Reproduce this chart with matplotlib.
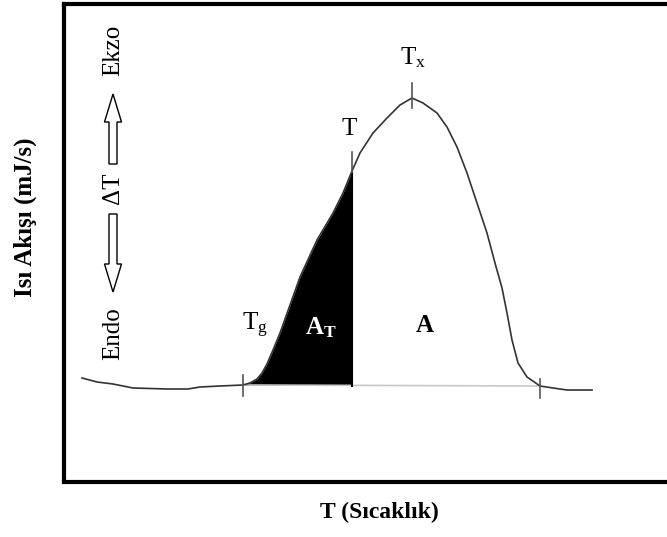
"""DSC curve sketch: heat flow vs temperature with Tg, T, Tx markers."""

import matplotlib.pyplot as plt
from matplotlib.patches import FancyArrow

plt.rcParams["font.family"] = ["Liberation Serif", "DejaVu Serif"]
plt.rcParams["mathtext.fontset"] = "custom"
plt.rcParams["mathtext.rm"] = "Liberation Serif"
plt.rcParams["mathtext.bf"] = "Liberation Serif:bold"

# curve (pixel-like units, y grows downward)
curve_x = [82, 97, 113, 133, 167, 188, 200, 220, 243, 250, 257, 262, 267, 273,
           280, 290, 300, 317, 333, 343, 352, 360, 373, 387, 400, 412, 423, 437,
           447, 457, 467, 477, 487, 495, 502, 507, 512, 518, 527, 540, 553, 567,
           592]
curve_y = [378, 382, 384, 388, 389, 389, 387, 386, 385, 383, 379, 373, 364, 350,
           333, 305, 277, 240, 213, 193, 171, 153, 133, 118, 105, 98, 103, 113,
           127, 147, 173, 203, 233, 263, 288, 313, 340, 363, 377, 386, 388, 390,
           390]

# marker temperatures
t_g, t_t, t_x, t_end = 243, 352, 412, 540
baseline_y = [385, 386]

fig = plt.figure(figsize=(6.67, 5.37), dpi=100)
ax = fig.add_axes([64 / 667, (537 - 481.5) / 537, 1 - 64 / 667, (481.5 - 4) / 537])
ax.set_xlim(64, 667)
ax.set_ylim(481.5, 4)
for side in ["left", "top", "bottom"]:
    ax.spines[side].set_linewidth(3)
ax.spines["right"].set_visible(False)
ax.set_xticks([])
ax.set_yticks([])

# shaded area A_T between Tg and T
fx = [x for x in curve_x if t_g <= x <= t_t]
fy = [y for x, y in zip(curve_x, curve_y) if t_g <= x <= t_t]
ax.fill_between(fx, fy, baseline_y[0], color="black", lw=0)

# baseline and curve
ax.plot([t_g, t_end], baseline_y, color="#c8c8c8", lw=1.2)
ax.plot([t_t, t_t], [172, 386], color="black", lw=1.5)
ax.plot(curve_x, curve_y, color="#333333", lw=1.2, solid_joinstyle="round")

# tick marks
for tx, y0, y1 in [(t_g, 375, 396), (t_t, 152, 172), (t_x, 83, 108), (t_end, 379, 398)]:
    ax.plot([tx, tx], [y0, y1], color="#555555", lw=1.2)

fs = 18
ax.text(255, 340, r"$\mathrm{T_g}$", fontsize=fs, ha="center", va="bottom")
ax.text(321, 340, r"$\mathbf{A_T}$", fontsize=fs, ha="center", va="bottom", color="white")
ax.text(425, 337, "A", fontsize=fs, fontweight="bold", ha="center", va="bottom")
ax.text(349, 140, "T", fontsize=fs, ha="center", va="bottom")
ax.text(413, 70, r"$\mathrm{T_x}$", fontsize=fs, ha="center", va="bottom")

# endo / exo indicator
ax.text(113, 50, "Ekzo", rotation=90, fontsize=fs, ha="center", va="center")
ax.text(113, 188, "ΔT", rotation=90, fontsize=fs, ha="center", va="center")
ax.text(113, 334, "Endo", rotation=90, fontsize=fs, ha="center", va="center")
ax.add_patch(FancyArrow(113, 164, 0, -70, width=8, head_width=17, head_length=28,
                        length_includes_head=True, fc="white", ec="black", lw=1))
ax.add_patch(FancyArrow(113, 214, 0, 78, width=8, head_width=17, head_length=28,
                        length_includes_head=True, fc="white", ec="black", lw=1))

fig.text(25 / 667, 1 - 217 / 537, "Isı Akışı (mJ/s)", rotation=90, fontsize=18,
         fontweight="bold", ha="center", va="center")
fig.text(379 / 667, 1 - 512 / 537, "T (Sıcaklık)", fontsize=17, fontweight="bold",
         ha="center", va="center")

fig.savefig("out.png", dpi=100)
